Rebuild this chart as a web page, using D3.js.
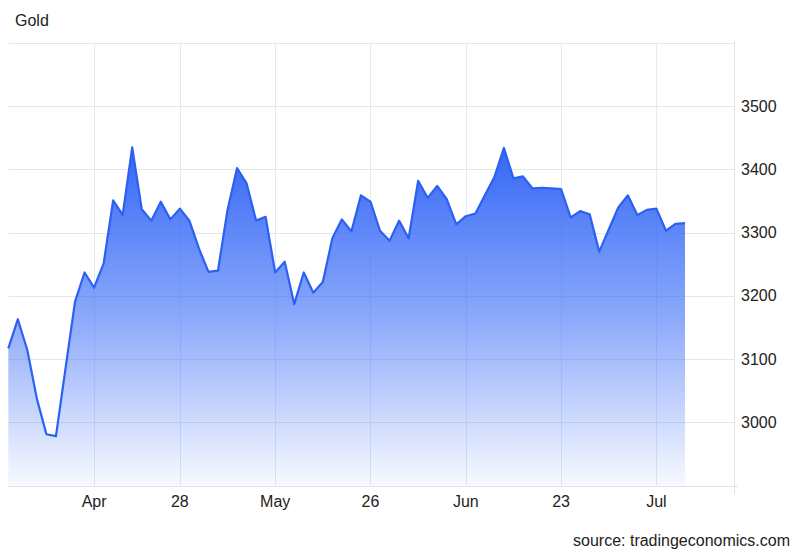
<!DOCTYPE html>
<html>
<head>
<meta charset="utf-8">
<script src="https://cdn.jsdelivr.net/npm/d3@7"></script>
<style>
  html, body { margin: 0; padding: 0; background: #fff; }
  svg { display: block; font-family: "Liberation Sans", Arial, Helvetica, sans-serif; }
</style>
</head>
<body>
<svg id="chart" width="800" height="555"></svg>
<script>
// ---- data (daily gold price, trading days) ----
const title = "Gold";
const source = "source: tradingeconomics.com";
const prices = [
  3117, 3163, 3114, 3037, 2981, 2978, 3085, 3191, 3237, 3213,
  3251, 3351, 3328, 3435, 3337, 3319, 3349, 3321, 3338, 3319,
  3275, 3238, 3240, 3336, 3402, 3378, 3319, 3325, 3237, 3254,
  3187, 3237, 3205, 3222, 3291, 3321, 3302, 3359, 3349, 3303,
  3287, 3319, 3291, 3382, 3355, 3374, 3353, 3313, 3326, 3330,
  3359, 3388, 3434, 3386, 3389, 3370, 3371, 3370, 3369, 3324,
  3334, 3329, 3270, 3305, 3340, 3359, 3328, 3336, 3338, 3303,
  3314, 3315
];
const xTickIndex = [9, 18, 28, 38, 48, 58, 68];
const xTickLabels = ["Apr", "28", "May", "26", "Jun", "23", "Jul"];
const yTickValues = [3000, 3100, 3200, 3300, 3400, 3500];
const yGridValues = [3000, 3100, 3200, 3300, 3400, 3500, 3600];
const yDomain = [2900, 3600];

// ---- layout ----
const svg = d3.select("#chart");
const pLeft = 8.3, pRight = 685, gridRight = 735, pTop = 43, pBottom = 485.5;

const x = d3.scaleLinear().domain([0, prices.length - 1]).range([pLeft, pRight]);
const y = d3.scaleLinear().domain(yDomain).range([pBottom, pTop]);

// gradient
const defs = svg.append("defs");
const grad = defs.append("linearGradient")
  .attr("id", "fillGrad")
  .attr("gradientUnits", "userSpaceOnUse")
  .attr("x1", 0).attr("x2", 0)
  .attr("y1", y(d3.max(prices))).attr("y2", pBottom);
grad.append("stop").attr("offset", 0).attr("stop-color", "#3466f6").attr("stop-opacity", 1);
grad.append("stop").attr("offset", 0.5).attr("stop-color", "#3d6ff7").attr("stop-opacity", 0.6);
grad.append("stop").attr("offset", 1).attr("stop-color", "#3d6ff7").attr("stop-opacity", 0.04);

// horizontal grid
svg.append("g").selectAll("line").data(yGridValues).join("line")
  .attr("x1", pLeft).attr("x2", gridRight)
  .attr("y1", d => Math.round(y(d)) + 0.5).attr("y2", d => Math.round(y(d)) + 0.5)
  .attr("stroke", "#e6e6e9").attr("stroke-width", 1);

// vertical grid
svg.append("g").selectAll("line").data(xTickIndex).join("line")
  .attr("x1", d => Math.round(x(d)) + 0.5).attr("x2", d => Math.round(x(d)) + 0.5)
  .attr("y1", pTop).attr("y2", pBottom)
  .attr("stroke", "#e4e9f6").attr("stroke-width", 1);

// area
const area = d3.area().x((d, i) => x(i)).y0(pBottom).y1(d => y(d));
svg.append("path").datum(prices).attr("d", area).attr("fill", "url(#fillGrad)");

// line
const line = d3.line().x((d, i) => x(i)).y(d => y(d));
svg.append("path").datum(prices).attr("d", line)
  .attr("fill", "none").attr("stroke", "#2c60f2").attr("stroke-width", 2.2)
  .attr("stroke-linejoin", "round");

// bottom axis line and right axis line
svg.append("line").attr("x1", pLeft).attr("x2", 738)
  .attr("y1", Math.round(pBottom) + 0.5).attr("y2", Math.round(pBottom) + 0.5)
  .attr("stroke", "#e3e3e6");
svg.append("line").attr("x1", gridRight - 0.5).attr("x2", gridRight - 0.5)
  .attr("y1", pTop - 2).attr("y2", 494)
  .attr("stroke", "#e3e3e6");

// y labels (right)
svg.append("g").selectAll("text").data(yTickValues).join("text")
  .attr("x", 741).attr("y", d => y(d))
  .attr("dy", "0.35em")
  .attr("font-size", 16).attr("fill", "#222")
  .text(d => d);

// x labels
svg.append("g").selectAll("text").data(xTickIndex).join("text")
  .attr("x", d => x(d)).attr("y", 501)
  .attr("dy", "0.35em")
  .attr("text-anchor", "middle")
  .attr("font-size", 16).attr("fill", "#222")
  .text((d, i) => xTickLabels[i]);

// title
svg.append("text").attr("x", 15).attr("y", 20).attr("dy", "0.35em")
  .attr("font-size", 16).attr("fill", "#222").text(title);

// source
svg.append("text").attr("x", 790).attr("y", 540).attr("dy", "0.35em")
  .attr("text-anchor", "end")
  .attr("font-size", 16).attr("fill", "#222").text(source);
</script>
</body>
</html>
